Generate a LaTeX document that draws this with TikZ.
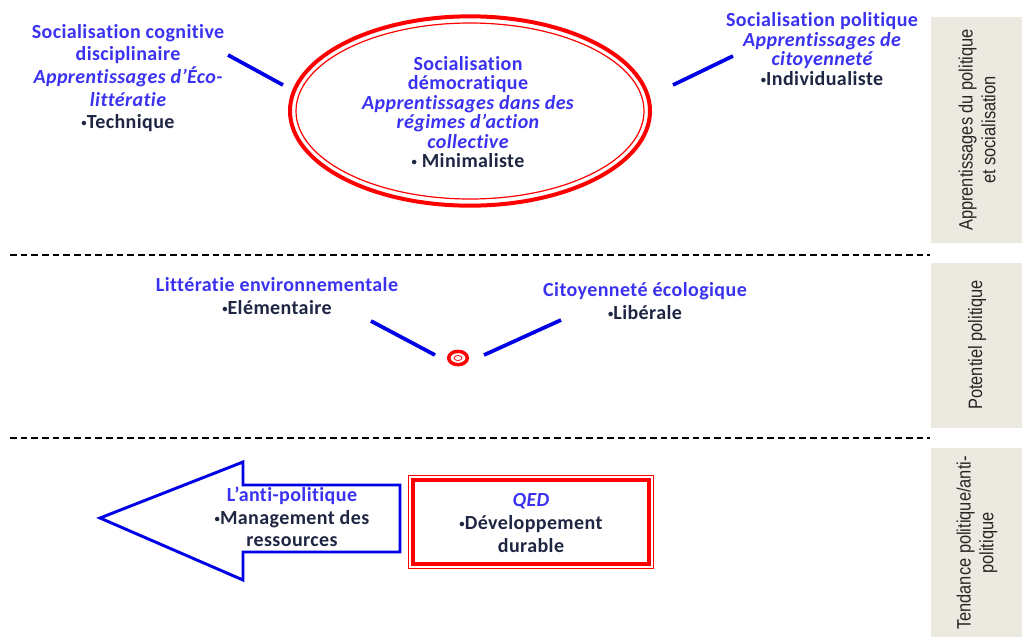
\documentclass[tikz,border=0pt]{standalone}
\usepackage{fontspec}
\setmainfont{Carlito}[Ligatures=NoCommon, LetterSpace=2]
\newfontfamily\sidefont[FakeStretch=0.85]{Liberation Sans}
\usetikzlibrary{arrows.meta, positioning, shapes.geometric}

\definecolor{txtblue}{RGB}{58,50,240}
\definecolor{txtdark}{RGB}{30,38,66}
\definecolor{linkblue}{RGB}{0,0,230}
\definecolor{sidegrey}{RGB}{236,233,224}

\begin{document}
\begin{tikzpicture}[
    x=0.75pt, y=-0.75pt,
    txt/.style={align=center, inner sep=0pt, text=txtdark, font=\bfseries\fontsize{15}{17}\selectfont},
    tight/.style={txt, font=\bfseries\fontsize{15}{14.6}\selectfont},
    link/.style={draw=linkblue, line width=2.8pt},
    side/.style={rotate=90, align=center, inner sep=0pt, text=black!85, font=\sidefont\fontsize{14.5}{17}\selectfont},
    sep/.style={dash pattern=on 5pt off 3pt, line width=0.8pt}
]
    \useasboundingbox (0,0) rectangle (1022,637);

    % bandeau de droite
    \fill[sidegrey] (931,17) rectangle (1022,243);
    \fill[sidegrey] (931,263) rectangle (1022,428);
    \fill[sidegrey] (931,448) rectangle (1022,637);
    \node[side] (tier1) at (977,130) {Apprentissages du politique\\ et socialisation};
    \node[side] (tier2) at (977,345) {Potentiel politique};
    \node[side] (tier3) at (977,543) {Tendance politique/anti-\\ politique};

    \draw[sep] (10,255) -- (930,255);
    \draw[sep] (10,438) -- (930,438);

    % niveau 1
    \node[ellipse, draw=red, line width=3pt, minimum width=270pt, minimum height=142pt, inner sep=0pt] (demo) at (470,111) {};
    \draw[red, line width=0.9pt] (demo.center) ellipse [x radius=174, y radius=88];
    \node[tight] (demotxt) at (468,112) {\textcolor{txtblue}{Socialisation}\\ \textcolor{txtblue}{démocratique}\\
        \textcolor{txtblue}{\itshape Apprentissages dans des}\\ \textcolor{txtblue}{\itshape régimes d’action}\\
        \textcolor{txtblue}{\itshape collective}\\ \raisebox{.2ex}{\footnotesize•} Minimaliste};
    \node[txt] (cogn) at (128,78) {\textcolor{txtblue}{Socialisation cognitive}\\ \textcolor{txtblue}{disciplinaire}\\
        \textcolor{txtblue}{\itshape Apprentissages d’Éco-}\\ \textcolor{txtblue}{\itshape littératie}\\ \raisebox{.2ex}{\footnotesize•}Technique};
    \node[tight] (pol) at (822,49) {\textcolor{txtblue}{Socialisation politique}\\ \textcolor{txtblue}{\itshape Apprentissages de}\\
        \textcolor{txtblue}{\itshape citoyenneté}\\ \raisebox{.2ex}{\footnotesize•}Individualiste};
    \coordinate (cognend) at (228,55);
    \coordinate (demowest) at (283,85);
    \coordinate (demoeast) at (673,85);
    \coordinate (polend) at (733,56);
    \draw[link] (cognend) -- (demowest);
    \draw[link] (demoeast) -- (polend);

    % niveau 2
    \node[ellipse, draw=red, line width=2.6pt, minimum width=14pt, minimum height=10pt, inner sep=0pt] (hub) at (458,358) {};
    \draw[red, line width=0.6pt] (hub.center) ellipse [x radius=4, y radius=2.5];
    \node[txt] (litt) at (277,296) {\textcolor{txtblue}{Littératie environnementale}\\ \raisebox{.2ex}{\footnotesize•}Elémentaire};
    \node[txt] (citoy) at (645,301) {\textcolor{txtblue}{Citoyenneté écologique}\\ \raisebox{.2ex}{\footnotesize•}Libérale};
    \coordinate (littend) at (371,321);
    \coordinate (hubwest) at (435,355);
    \coordinate (hubeast) at (484,355);
    \coordinate (citoyend) at (561,320);
    \draw[link] (littend) -- (hubwest);
    \draw[link] (hubeast) -- (citoyend);

    % niveau 3
    \draw[draw=linkblue, line width=2.2pt] (400,485) -- (243,485) -- (243,462) -- (100,518)
        -- (243,580) -- (243,552) -- (400,552) -- cycle;
    \node[txt] (anti) at (292,517) {\textcolor{txtblue}{L’anti-politique}\\ \raisebox{.2ex}{\footnotesize•}Management des\\ ressources};
    \node[draw=red, line width=2.6pt, minimum width=177pt, minimum height=63pt, inner sep=0pt] (qedbox) at (531,522) {};
    \draw[red, line width=0.8pt] ([shift={(-3,-3)}]qedbox.north west) rectangle ([shift={(3,3)}]qedbox.south east);
    \node[txt] (qed) at (531,523) {\textcolor{txtblue}{\itshape QED}\\ \raisebox{.2ex}{\footnotesize•}Développement\\ durable};
\end{tikzpicture}
\end{document}
